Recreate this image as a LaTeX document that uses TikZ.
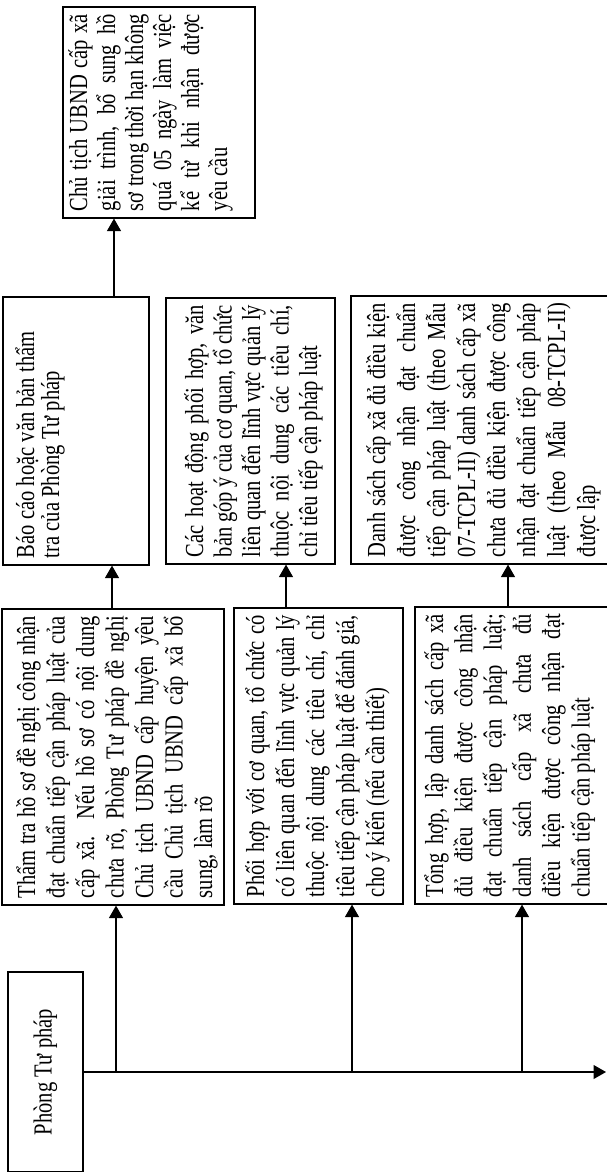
\documentclass[tikz,border=0pt]{standalone}
\usepackage{fontspec}
\setmainfont{Liberation Serif}[FakeStretch=0.79]
\usetikzlibrary{arrows.meta}
\tikzset{
  flowbox/.style={draw, line width=1.2pt, rotate=90, inner xsep=7pt, inner ysep=0pt, anchor=center},
  arr/.style={line width=1.2pt, -{Triangle[length=12.5pt,width=14pt]}},
}
% #1 cross size, #2 text width, #3 baselineskip, #4 first gap, #5 text
\newcommand\vbx[5]{\parbox[c][#1pt][t]{#2pt}{\fontsize{26}{#3}\selectfont\hyphenpenalty=10000\exhyphenpenalty=10000\vspace*{#4}\rule{0pt}{26pt}#5\par}}
\begin{document}
\begin{tikzpicture}[x=1pt,y=-1pt,font=\fontsize{26}{30}\selectfont]
\useasboundingbox (0,0) rectangle (606,1172);
% row 1 (bottom boxes)
\node[flowbox, minimum width=296pt, minimum height=222pt] (A) at (113,757)
 {\vbx{222}{282}{29.5pt}{7pt}{Thẩm tra hồ sơ đề nghị công nhận\linebreak đạt chuẩn tiếp cận pháp luật của\linebreak cấp xã. Nếu hồ sơ có nội dung\linebreak chưa rõ, Phòng Tư pháp đề nghị\linebreak Chủ tịch UBND cấp huyện yêu\linebreak cầu Chủ tịch UBND cấp xã bổ\linebreak sung, làm rõ}};
\node[flowbox, minimum width=296pt, minimum height=169pt] (B) at (318.5,756)
 {\vbx{169}{282}{30pt}{4pt}{Phối hợp với cơ quan, tổ chức có\linebreak có liên quan đến lĩnh vực quản lý\linebreak thuộc nội dung các tiêu chí, chỉ\linebreak tiêu tiếp cận pháp luật để đánh giá,\linebreak cho ý kiến (nếu cần thiết)}};
\node[flowbox, minimum width=297pt, minimum height=195pt] (C) at (512.5,755.5)
 {\vbx{195}{283}{29.3pt}{2pt}{Tổng hợp, lập danh sách cấp xã\linebreak đủ điều kiện được công nhận\linebreak đạt chuẩn tiếp cận pháp luật;\linebreak danh sách cấp xã chưa đủ\linebreak điều kiện được công nhận đạt\linebreak chuẩn tiếp cận pháp luật}};
% row 2
\node[flowbox, minimum width=268pt, minimum height=146pt] (D) at (76,431)
 {\vbx{146}{254}{25pt}{5pt}{Báo cáo hoặc văn bản thẩm\newline tra của Phòng Tư pháp}};
\node[flowbox, minimum width=266pt, minimum height=169pt] (E) at (250.5,431)
 {\vbx{169}{252}{28.5pt}{11pt}{Các hoạt động phối hợp, văn\linebreak bản góp ý của cơ quan, tổ chức\linebreak liên quan đến lĩnh vực quản lý\linebreak thuộc nội dung các tiêu chí,\linebreak chỉ tiêu tiếp cận pháp luật}};
\node[flowbox, minimum width=268pt, minimum height=259pt] (F) at (480.5,430)
 {\vbx{259}{254}{30pt}{8pt}{Danh sách cấp xã đủ điều kiện\linebreak được công nhận đạt chuẩn\linebreak tiếp cận pháp luật (theo Mẫu\linebreak 07-TCPL-II) danh sách cấp xã\linebreak chưa đủ điều kiện được công\linebreak nhận đạt chuẩn tiếp cận pháp\linebreak luật (theo Mẫu 08-TCPL-II)\linebreak được lập}};
% row 3
\node[flowbox, minimum width=211pt, minimum height=192pt] (G) at (159,112.5)
 {\vbx{192}{197}{28pt}{-2pt}{Chủ tịch UBND cấp xã\linebreak giải trình, bổ sung hồ\linebreak sơ trong thời hạn không\linebreak quá 05 ngày làm việc\linebreak kể từ khi nhận được\linebreak yêu cầu}};
% start box
\node[flowbox, minimum width=200pt, minimum height=75pt] (P) at (45.5,1072) {Phòng Tư pháp};
% main line
\coordinate (mend) at (606,1072);
\draw[arr] (P.south) -- (mend);
\coordinate (jA) at (116,1072);
\coordinate (jB) at (352,1072);
\coordinate (jC) at (522,1072);
\draw[arr] (jA) -- (jA |- A.west);
\draw[arr] (jB) -- (jB |- B.west);
\draw[arr] (jC) -- (jC |- C.west);
% upward links
\coordinate (xAD) at (112,0);
\coordinate (xBE) at (286,0);
\coordinate (xCF) at (508,0);
\coordinate (xDG) at (114,0);
\draw[arr] (xAD |- A.east) -- (xAD |- D.west);
\draw[arr] (xBE |- B.east) -- (xBE |- E.west);
\draw[arr] (xCF |- C.east) -- (xCF |- F.west);
\draw[arr] (xDG |- D.east) -- (xDG |- G.west);
\end{tikzpicture}
\end{document}
